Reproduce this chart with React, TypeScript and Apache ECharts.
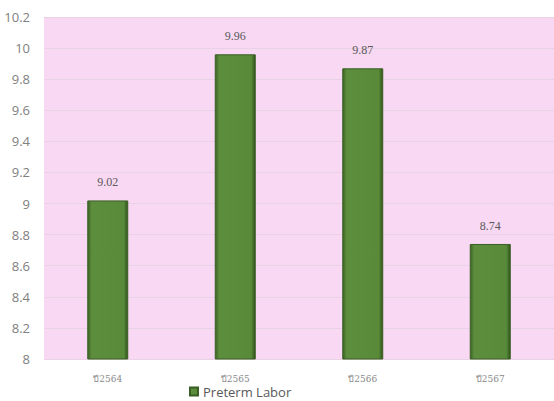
import React, { useEffect, useRef } from "react";
import * as echarts from "echarts";

const categories = ["ปี2564", "ปี2565", "ปี2566", "ปี2567"];
const values = [9.02, 9.96, 9.87, 8.74];
const seriesName = "Preterm Labor";
const yMin = 8;
const yMax = 10.2;
const yStep = 0.2;

export default function App() {
  const ref = useRef<HTMLDivElement>(null);
  useEffect(() => {
    if (!ref.current) return;
    const chart = echarts.init(ref.current, undefined, { renderer: "svg" });
    chart.setOption({
      animation: false,
      backgroundColor: "#ffffff",
      grid: {
        left: 44,
        right: -6,
        top: 17,
        bottom: 42,
        show: true,
        backgroundColor: "#f9d8f3",
        borderWidth: 0,
      },
      legend: {
        data: [seriesName],
        left: 184,
        top: 380,
        itemWidth: 8,
        itemHeight: 8,
        itemGap: 4,
        icon: "rect",
        textStyle: { color: "#595959", fontSize: 13, fontFamily: "Open Sans" },
      },
      xAxis: {
        type: "category",
        data: categories,
        axisLine: { show: false },
        axisTick: { show: false },
        axisLabel: {
          color: "#8a8a8a",
          fontSize: 9,
          fontFamily: "DejaVu Serif",
          margin: 15,
        },
      },
      yAxis: {
        type: "value",
        min: yMin,
        max: yMax,
        interval: yStep,
        axisLine: { show: false },
        axisTick: { show: false },
        splitLine: { lineStyle: { color: "#e8d2e4", width: 1 } },
        axisLabel: {
          color: "#808080",
          fontSize: 13,
          fontFamily: "Open Sans",
          margin: 14,
          formatter: (v: number) => String(Math.round(v * 10) / 10),
        },
      },
      series: [
        {
          name: seriesName,
          type: "bar",
          data: values,
          barWidth: 41,
          itemStyle: {
            color: new echarts.graphic.LinearGradient(1, 0, 0, 0, [
              { offset: 0, color: "#2f5418" },
              { offset: 0.1, color: "#588a3a" },
              { offset: 0.9, color: "#5d8e3e" },
              { offset: 1, color: "#3c6425" },
            ]),
            borderColor: "#3a5f25",
            borderWidth: 1,
          },
          label: {
            show: true,
            position: "top",
            distance: 12,
            color: "#595959",
            fontSize: 12,
            fontFamily: "Liberation Serif",
            formatter: (p: any) => p.value.toFixed(2),
          },
        },
      ],
    });
    return () => chart.dispose();
  }, []);
  return (
    <div
      ref={ref}
      style={{ position: "absolute", left: 0, top: 0, width: 554, height: 401 }}
    />
  );
}
